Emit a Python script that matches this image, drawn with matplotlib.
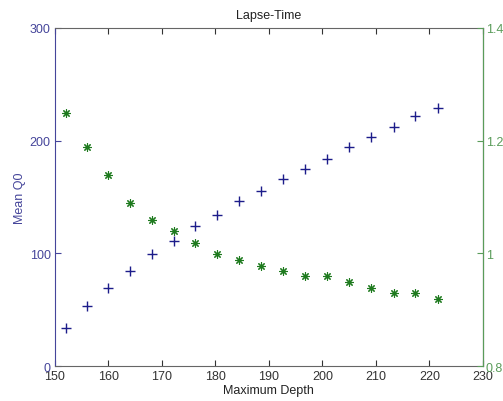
import matplotlib.pyplot as plt

# Data
depth = [152.0, 156.0, 160.0, 164.1, 168.1, 172.2, 176.2, 180.3, 184.4,
         188.5, 192.6, 196.7, 200.8, 205.0, 209.1, 213.3, 217.4, 221.6]
mean_q0 = [34, 53, 69, 84, 99, 111, 124, 134, 146,
           155, 166, 175, 184, 194, 203, 212, 222, 229]
ratio = [1.249, 1.189, 1.139, 1.089, 1.060, 1.039, 1.019, 0.998, 0.989,
         0.978, 0.968, 0.959, 0.959, 0.949, 0.938, 0.929, 0.929, 0.919]

plt.rcParams['font.family'] = ['Liberation Sans', 'DejaVu Sans']
plt.rcParams['font.size'] = 9

blue = '#1c1c8a'
blue_axis = '#45459a'
green = '#1e7a1e'
green_axis = '#5a9c5a'
dark = '#333333'

fig = plt.figure(figsize=(5.03, 4.02), dpi=100)
ax1 = fig.add_axes([0.1093, 0.087, 0.8507, 0.841])

ax1.plot(depth, mean_q0, '+', color=blue, markersize=7, markeredgewidth=1.0)
ax1.set_xlim(150, 230)
ax1.set_ylim(0, 300)
ax1.set_xticks(range(150, 231, 10))
ax1.set_yticks([0, 100, 200, 300])
ax1.tick_params(direction='in', top=True, length=4)
ax1.tick_params(axis='y', colors=blue_axis, labelcolor=blue_axis, pad=3)
ax1.tick_params(axis='x', colors=dark, labelcolor=dark, pad=3)
ax1.spines['left'].set_color(blue_axis)
ax1.spines['bottom'].set_color('#666666')
ax1.spines['top'].set_color('#666666')
ax1.set_xlabel('Maximum Depth', labelpad=1, color='#222222')
ax1.set_ylabel('Mean Q0', color=blue_axis, labelpad=3)
ax1.set_title('Lapse-Time', pad=7, color='#222222', fontsize=9)

ax2 = ax1.twinx()
ax2.plot(depth, ratio, marker=(8, 2, 0), linestyle='none', color=green,
         markersize=6, markeredgewidth=0.8)
ax2.set_ylim(0.8, 1.4)
ax2.set_yticks([0.8, 1.0, 1.2, 1.4])
ax2.set_yticklabels(['0.8', '1', '1.2', '1.4'])
ax2.tick_params(direction='in', length=4, pad=2, colors=green_axis, labelcolor=green_axis)
ax2.spines['right'].set_color(green_axis)
ax2.spines['left'].set_visible(False)
ax2.spines['top'].set_visible(False)
ax2.spines['bottom'].set_visible(False)

fig.savefig('out.png', dpi=100)
